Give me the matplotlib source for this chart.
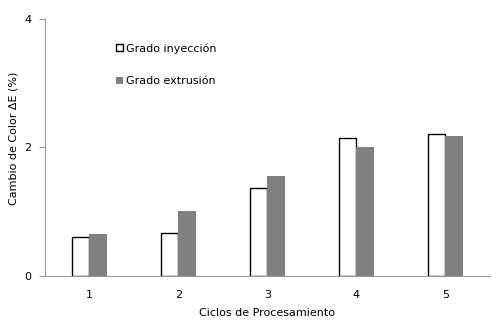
import matplotlib
matplotlib.use("Agg")
import matplotlib.pyplot as plt
import numpy as np

ciclos = ["1", "2", "3", "4", "5"]
inyeccion = [0.60, 0.67, 1.37, 2.14, 2.21]
extrusion = [0.65, 1.01, 1.55, 2.01, 2.18]

plt.rcParams['font.family'] = ['DejaVu Sans']
fig = plt.figure(figsize=(4.97, 3.27), dpi=100)
ax = fig.add_axes([0.0905, 0.157, 0.895, 0.785])

x = np.arange(1, len(ciclos) + 1)
w = 0.2
ax.bar(x - w / 2, inyeccion, w, color="white", edgecolor="black", linewidth=1.0, label="Grado inyección")
ax.bar(x + w / 2, extrusion, w, color="#808080", edgecolor="none", label="Grado extrusión")

ax.set_xlim(0.5, 5.5)
ax.set_ylim(0, 4)
ax.set_yticks([0, 2, 4])
ax.set_xticks(x)
ax.set_xticklabels(ciclos)
for s in ["top", "right"]:
    ax.spines[s].set_visible(False)
for s in ["left", "bottom"]:
    ax.spines[s].set_color("#9a9a9a")
    ax.spines[s].set_linewidth(0.8)
ax.tick_params(axis="y", length=4, color="#9a9a9a", labelsize=8, pad=6)
ax.tick_params(axis="x", length=0, labelsize=8, pad=10)
ax.set_xlabel("Ciclos de Procesamiento", fontsize=8, labelpad=6)
ax.set_ylabel("Cambio de Color ΔE (%)", fontsize=8)
ax.yaxis.set_label_coords(-0.059, 0.535)

leg = ax.legend(loc="upper left", bbox_to_anchor=(0.138, 0.945), frameon=False, fontsize=8,
                handlelength=0.6, handleheight=0.6, handletextpad=0.3, labelspacing=2.05)

fig.savefig("out.png", dpi=100)
